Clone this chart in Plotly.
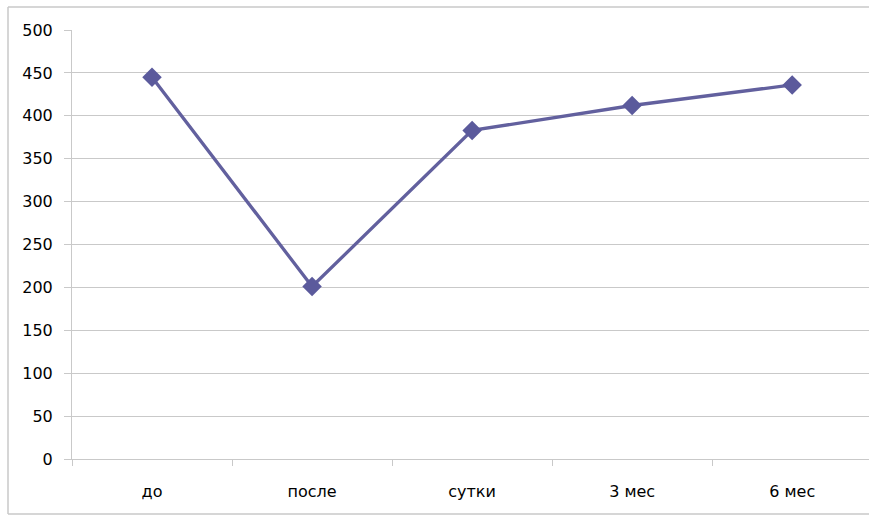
import plotly.graph_objects as go

# Data
periods = ["до", "после", "сутки", "3 мес", "6 мес"]
values = [445, 201, 383, 412, 436]
y_ticks = [0, 50, 100, 150, 200, 250, 300, 350, 400, 450, 500]

line_color = "#62609E"
grid_color = "#C9C9C9"

# chart-area frame (the right edge is cut off in the original)
x_left = -64 / 797
y_bottom = -55 / 429
y_top = 1 + 23 / 429
frame = dict(color="#C8C8C8", width=1.5)

fig = go.Figure()
fig.add_trace(go.Scatter(
    x=periods,
    y=values,
    mode="lines+markers",
    line=dict(color=line_color, width=3.3),
    marker=dict(symbol="diamond", size=15, color="#5B5A9C"),
    showlegend=False,
))

fig.update_layout(
    width=869,
    height=523,
    margin=dict(l=72, r=0, t=30, b=64),
    paper_bgcolor="white",
    plot_bgcolor="white",
    font=dict(family="DejaVu Sans", size=16, color="#000000"),
    shapes=[
        dict(type="line", xref="paper", yref="paper", x0=x_left, x1=1.05,
             y0=y_top, y1=y_top, line=frame, layer="below"),
        dict(type="line", xref="paper", yref="paper", x0=x_left, x1=1.05,
             y0=y_bottom, y1=y_bottom, line=frame, layer="below"),
        dict(type="line", xref="paper", yref="paper", x0=x_left, x1=x_left,
             y0=y_bottom, y1=y_top, line=frame, layer="below"),
    ],
)

fig.update_xaxes(
    type="category",
    range=[-0.5, 4.48],
    showgrid=False,
    showline=True,
    linecolor=grid_color,
    linewidth=1,
    ticks="outside",
    tickson="boundaries",
    ticklen=6,
    tickcolor=grid_color,
    ticklabelstandoff=18,
    zeroline=False,
)

fig.update_yaxes(
    range=[0, 500],
    tickvals=y_ticks,
    showgrid=True,
    gridcolor=grid_color,
    gridwidth=1,
    showline=True,
    linecolor=grid_color,
    ticks="outside",
    ticklen=7,
    tickcolor=grid_color,
    ticklabelstandoff=8,
    zeroline=False,
)

# drop the default page margin so the figure sits at the window's top-left
fig.write_html(
    "out.html",
    config={"displayModeBar": False},
    post_script="document.body.style.margin='0';document.body.style.overflow='hidden';",
)
